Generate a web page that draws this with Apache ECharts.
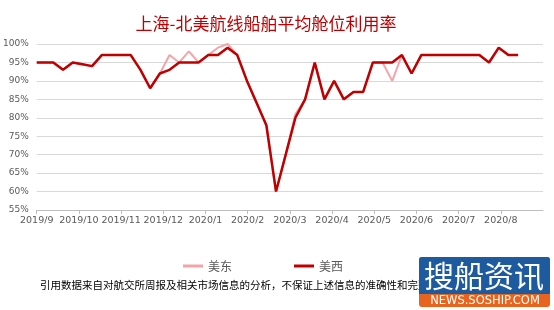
<!DOCTYPE html>
<html>
<head>
  <meta charset="UTF-8">
  <script src="https://cdn.jsdelivr.net/npm/echarts@6/dist/echarts.min.js"></script>
  <style>
    html, body { margin: 0; padding: 0; background: #fff; }
    #chart { width: 554px; height: 310px; }
  </style>
</head>
<body>
<div id="chart"></div>
<script>
  // weekly dates (fridays), first point sits on the axis start
  var dates = [
    '2019-09-01', '2019-09-13', '2019-09-20', '2019-09-27', '2019-10-04', '2019-10-11',
    '2019-10-18', '2019-10-25', '2019-11-01', '2019-11-08', '2019-11-15', '2019-11-22',
    '2019-11-29', '2019-12-06', '2019-12-13', '2019-12-20', '2019-12-27', '2020-01-03',
    '2020-01-10', '2020-01-17', '2020-01-24', '2020-01-31', '2020-02-07', '2020-02-14',
    '2020-02-21', '2020-02-28', '2020-03-06', '2020-03-13', '2020-03-20', '2020-03-27',
    '2020-04-03', '2020-04-10', '2020-04-17', '2020-04-24', '2020-05-01', '2020-05-08',
    '2020-05-15', '2020-05-22', '2020-05-29', '2020-06-05', '2020-06-12', '2020-06-19',
    '2020-06-26', '2020-07-03', '2020-07-10', '2020-07-17', '2020-07-24', '2020-07-31',
    '2020-08-07', '2020-08-14'
  ];
  var usEast = [
    95, 95, 93, 95, 94.5, 94,
    97, 97, 97, 97, 93, 88,
    92, 97, 95, 98, 95, 97,
    99, 100, 97, 90, 84, 78,
    60, 70, 81, 85, 95, 85,
    90, 85, 87, 87, 95, 95,
    90, 97, 92, 97, 97, 97,
    97, 97, 97, 97, 95, 99,
    97, 97
  ];
  var usWest = [
    95, 95, 93, 95, 94.5, 94,
    97, 97, 97, 97, 93, 88,
    92, 93, 95, 95, 95, 97,
    97, 99, 97, 90, 84, 78,
    60, 70, 80, 85, 95, 85,
    90, 85, 87, 87, 95, 95,
    95, 97, 92, 97, 97, 97,
    97, 97, 97, 97, 95, 99,
    97, 97
  ];
  var monthLabels = ['2019/9', '2019/10', '2019/11', '2019/12', '2020/1', '2020/2',
    '2020/3', '2020/4', '2020/5', '2020/6', '2020/7', '2020/8', ''];
  var seriesNames = ['美东', '美西'];

  var startDay = Date.UTC(2019, 8, 1);
  function dayOf(s) {
    var p = s.split('-');
    return (Date.UTC(+p[0], +p[1] - 1, +p[2]) - startDay) / 86400000;
  }
  function pairs(vals) {
    return vals.map(function (v, i) { return [dayOf(dates[i]), v]; });
  }

  var chart = echarts.init(document.getElementById('chart'));
  chart.setOption({
    backgroundColor: '#fff',
    animation: false,
    title: {
      text: '上海-北美航线船舶平均舱位利用率',
      left: 261,
      top: 10,
      textAlign: 'center',
      textStyle: {
        color: '#c00000',
        fontSize: 17,
        fontWeight: 'normal',
        fontFamily: 'Noto Sans CJK SC'
      }
    },
    legend: {
      data: seriesNames,
      left: 178,
      top: 255,
      itemWidth: 20,
      itemHeight: 3,
      itemGap: 62,
      icon: 'rect',
      textStyle: { color: '#595959', fontSize: 12, fontFamily: 'Noto Sans CJK SC' }
    },
    grid: { left: 36, right: 11, top: 44, bottom: 100, containLabel: false },
    xAxis: {
      type: 'value',
      min: 0,
      max: 366,
      interval: 30.5,
      axisLine: { lineStyle: { color: '#bfbfbf' } },
      axisTick: { show: true, length: 4, lineStyle: { color: '#bfbfbf' } },
      splitLine: { show: false },
      axisLabel: {
        color: '#595959',
        fontSize: 9.5,
        margin: 6,
        fontFamily: 'DejaVu Sans',
        showMaxLabel: false,
        formatter: function (v) { return monthLabels[Math.round(v / 30.5)] || ''; }
      }
    },
    yAxis: {
      type: 'value',
      min: 55,
      max: 100,
      interval: 5,
      axisLine: { show: false },
      axisTick: { show: false },
      splitLine: { lineStyle: { color: '#d9d9d9' } },
      axisLabel: {
        color: '#595959',
        fontSize: 9,
        margin: 8,
        fontFamily: 'DejaVu Sans',
        formatter: '{value}%'
      }
    },
    series: [
      {
        name: seriesNames[0],
        type: 'line',
        data: pairs(usEast),
        symbol: 'none',
        color: '#f4a3a8',
        lineStyle: { width: 2, color: '#f4a3a8' },
        z: 2
      },
      {
        name: seriesNames[1],
        type: 'line',
        data: pairs(usWest),
        symbol: 'none',
        color: '#c00000',
        lineStyle: { width: 2.5, color: '#c00000' },
        z: 3
      }
    ],
    graphic: [
      {
        type: 'text',
        left: 40,
        top: 280,
        style: {
          text: '引用数据来自对航交所周报及相关市场信息的分析，不保证上述信息的准确性和完整性。',
          fill: '#000',
          fontSize: 10.5,
          fontFamily: 'Noto Sans CJK SC'
        },
        z: 10
      },
      {
        type: 'rect',
        shape: { x: 419, y: 257, width: 131, height: 50, r: 3 },
        style: { fill: '#e8641e' },
        z: 20
      },
      {
        type: 'rect',
        shape: { x: 419, y: 257, width: 131, height: 37, r: [3, 3, 0, 0] },
        style: { fill: '#1e5b9e' },
        z: 21
      },
      {
        type: 'text',
        x: 484,
        y: 276,
        style: {
          text: '搜船资讯',
          fill: '#fff',
          fontSize: 30,
          fontFamily: 'Noto Sans CJK SC',
          align: 'center',
          verticalAlign: 'middle'
        },
        z: 22
      },
      {
        type: 'text',
        x: 485,
        y: 301,
        style: {
          text: 'NEWS.SOSHIP.COM',
          fill: '#fff',
          fontSize: 11.5,
          fontFamily: 'DejaVu Sans',
          align: 'center',
          verticalAlign: 'middle'
        },
        z: 22
      }
    ]
  });
</script>
</body>
</html>
